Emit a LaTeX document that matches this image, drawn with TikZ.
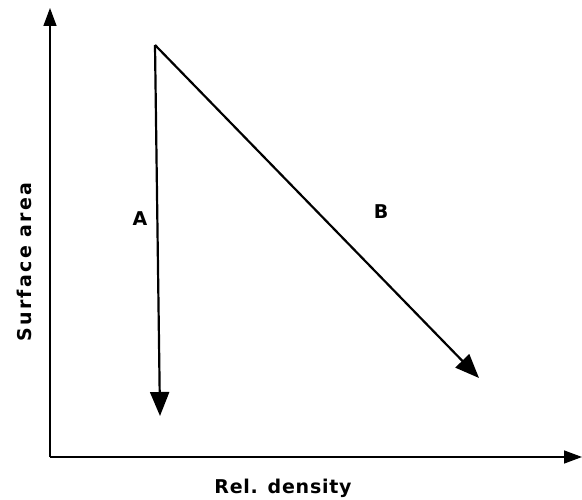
\documentclass[tikz,border=0pt]{standalone}
\usepackage{fontspec}
\setmainfont{DejaVu Sans}
\newfontfamily\lblfont[LetterSpace=4]{DejaVu Sans Bold}
\newfontfamily\lblwidefont[LetterSpace=12]{DejaVu Sans Bold}
\usetikzlibrary{arrows.meta}
\begin{document}
\begin{tikzpicture}[x=1pt,y=-1pt,
  axis/.style={line width=1.4pt,-{Triangle[length=18pt,width=13pt]}},
  path/.style={line width=2.2pt,-{Triangle[length=24pt,width=19pt]}},
  lbl/.style={font=\lblfont\fontsize{19}{21}\selectfont,inner sep=0pt}]
\useasboundingbox (0,0) rectangle (582,500);
\coordinate (o) at (50,457);
\coordinate (ytop) at (50,8);
\coordinate (xend) at (582,457);
\coordinate (apex) at (155,45);
\coordinate (aend) at (160,416);
\coordinate (bend) at (479,378);
\draw[axis] (o) -- (ytop);
\draw[axis] (o) -- (xend);
\draw[path] (apex) -- (aend);
\draw[path] (apex) -- (bend);
\node[lbl] (la) at (140,219) {A};
\node[lbl] (lb) at (381,212) {B};
\node[lbl,font=\lblwidefont\fontsize{19}{21}\selectfont,rotate=90] (ly) at (24,262) {Surface area};
\node[lbl] (lx) at (283,488) {Rel. density};
\end{tikzpicture}
\end{document}
